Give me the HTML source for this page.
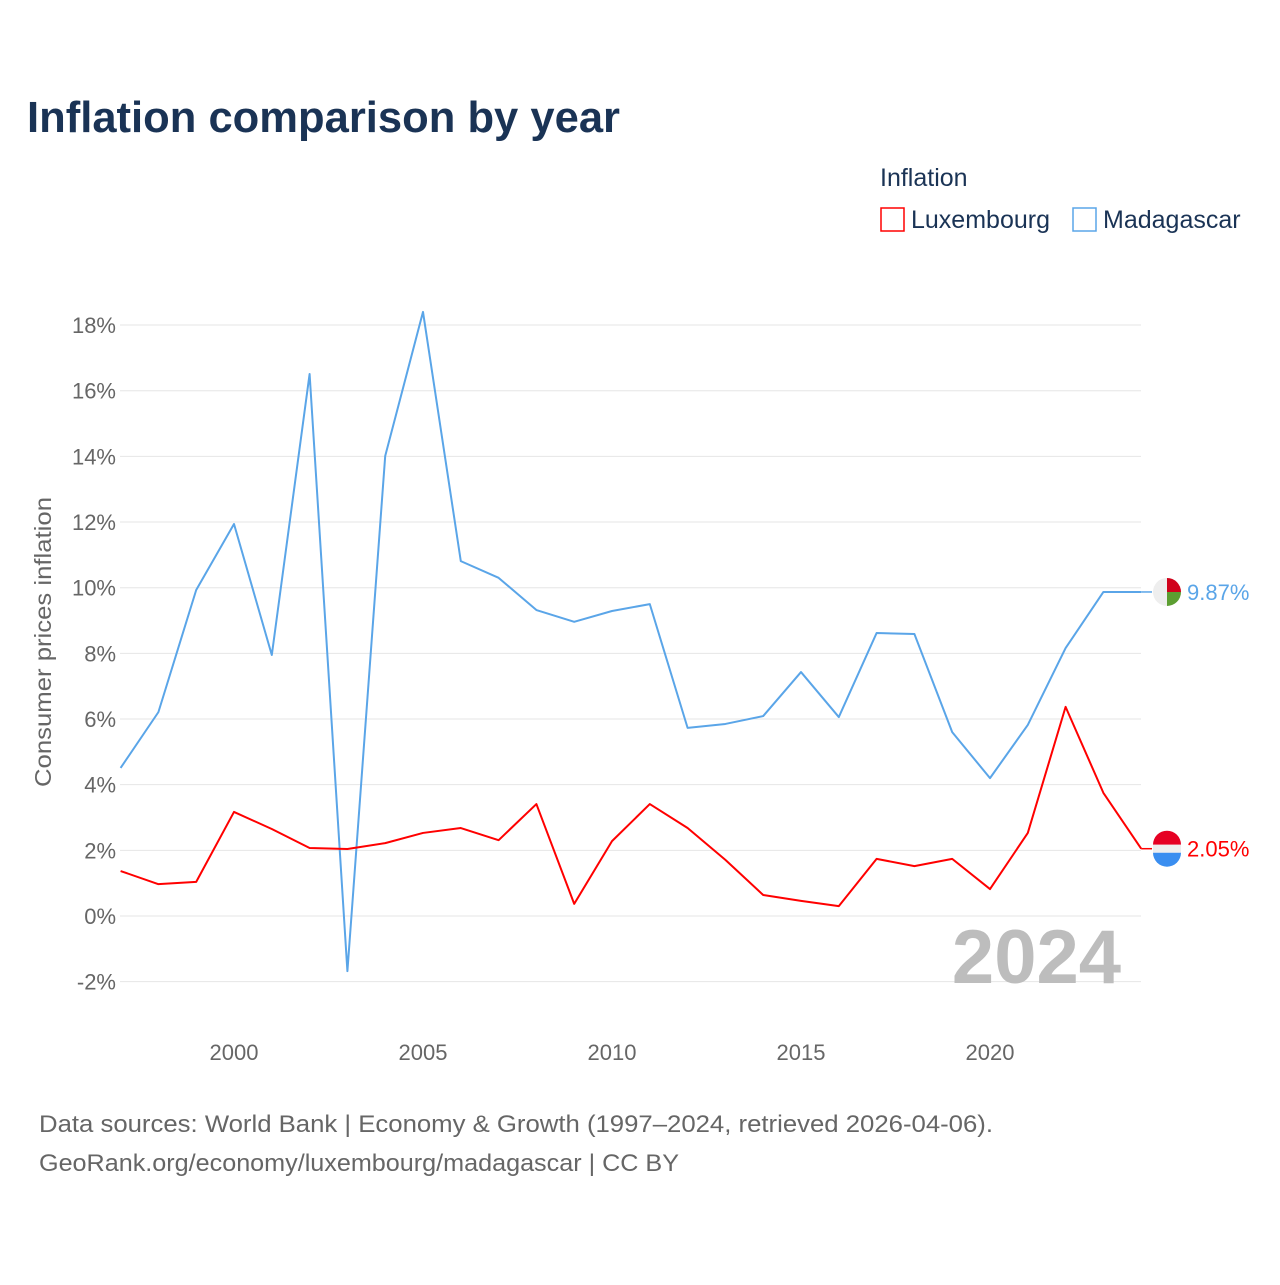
<!DOCTYPE html>
<html><head><meta charset="utf-8">
<style>
html,body{margin:0;padding:0;background:#fff;}
body{width:1280px;height:1280px;overflow:hidden;font-family:"Liberation Sans",sans-serif;}
</style></head>
<body>
<svg id="chart" width="1280" height="1280" viewBox="0 0 1280 1280" xmlns="http://www.w3.org/2000/svg">
<text x="27" y="132" font-size="44" font-weight="bold" fill="#1a3355" textLength="593" lengthAdjust="spacingAndGlyphs">Inflation comparison by year</text>
<text x="880" y="186" font-size="25" fill="#1a3355">Inflation</text>
<g>
<rect x="881" y="208" width="23" height="23" fill="none" stroke="#ff0000" stroke-width="1.5"/>
<text x="911" y="228" font-size="25" fill="#1a3355">Luxembourg</text></g>
<g>
<rect x="1073" y="208" width="23" height="23" fill="none" stroke="#5aa5e8" stroke-width="1.5"/>
<text x="1103" y="228" font-size="25" fill="#1a3355">Madagascar</text></g>
<g id="grid"></g>
<g id="series"></g>
<text transform="translate(51,642) rotate(-90)" text-anchor="middle" font-size="23" fill="#666" textLength="290" lengthAdjust="spacingAndGlyphs">Consumer prices inflation</text>
<text x="1121" y="983" text-anchor="end" font-size="76" font-weight="bold" fill="#bdbdbd">2024</text>
<text x="39" y="1132" font-size="24" fill="#666" textLength="954" lengthAdjust="spacingAndGlyphs">Data sources: World Bank | Economy &amp; Growth (1997–2024, retrieved 2026-04-06).</text>
<text x="39" y="1171" font-size="24" fill="#666" textLength="640" lengthAdjust="spacingAndGlyphs">GeoRank.org/economy/luxembourg/madagascar | CC BY</text>
</svg>
<script>
const years=[1997,1998,1999,2000,2001,2002,2003,2004,2005,2006,2007,2008,2009,2010,2011,2012,2013,2014,2015,2016,2017,2018,2019,2020,2021,2022,2023,2024];
const madagascar=[4.51,6.21,9.93,11.94,7.95,16.51,-1.68,14.01,18.40,10.81,10.30,9.32,8.96,9.29,9.50,5.73,5.85,6.09,7.43,6.06,8.62,8.59,5.60,4.20,5.82,8.16,9.87,9.87];
const luxembourg=[1.37,0.97,1.04,3.17,2.65,2.07,2.04,2.22,2.53,2.68,2.31,3.41,0.37,2.28,3.41,2.68,1.71,0.64,0.46,0.30,1.74,1.52,1.74,0.82,2.53,6.37,3.75,2.05];
const yTicks=[-2,0,2,4,6,8,10,12,14,16,18];
const xTicks=[2000,2005,2010,2015,2020];
const NS="http://www.w3.org/2000/svg";
const xS=y=>234+(y-2000)*37.8;
const yS=v=>916-v*32.83;
const grid=document.getElementById('grid'),ser=document.getElementById('series');
function mk(tag,attrs,parent){const e=document.createElementNS(NS,tag);for(const k in attrs)e.setAttribute(k,attrs[k]);parent.appendChild(e);return e;}
yTicks.forEach(t=>{
 const l=mk('line',{x1:120,x2:1141,y1:yS(t),y2:yS(t),stroke:'#e6e6e6','stroke-width':1},grid);
 
 
 const tx=mk('text',{x:116,y:yS(t)+8,'text-anchor':'end','font-size':22,fill:'#666'},grid);
 tx.textContent=t+'%';
 
 
});
xTicks.forEach(t=>{
 const tx=mk('text',{x:xS(t),y:1060,'text-anchor':'middle','font-size':22,fill:'#666'},grid);
 tx.textContent=t;
 
 
});
function line(vals,color,name){
 const p=mk('polyline',{points:vals.map((v,i)=>xS(years[i])+','+yS(v)).join(' '),fill:'none',stroke:color,'stroke-width':2,'stroke-linejoin':'round'},ser);
 
 
 const last=vals[vals.length-1],ly=yS(last);
 mk('line',{x1:xS(2024),x2:1152,y1:ly,y2:ly,stroke:color,'stroke-width':1.5},ser);
 const tx=mk('text',{x:1187,y:ly+8,'font-size':22,fill:color},ser);
 tx.textContent=last.toFixed(2)+'%';
 
 
 return ly;
}
const my=line(madagascar,'#5aa5e8','madagascar-line');
const ly=line(luxembourg,'#ff0000','luxembourg-line');
const fm=mk('g',{},ser);


mk('circle',{cx:1167,cy:my,r:14,fill:'#eee'},fm);
mk('path',{d:`M1167 ${my} L1167 ${my-14} A14 14 0 0 1 1181 ${my} Z`,fill:'#d0021b'},fm);
mk('path',{d:`M1167 ${my} L1181 ${my} A14 14 0 0 1 1167 ${my+14} Z`,fill:'#5c9e31'},fm);
const fl=mk('g',{},ser);


mk('path',{d:`M1153 ${ly-4} A14 14 0 0 1 1181 ${ly-4} Z`,fill:'#e60023'},fl);
mk('rect',{x:1153,y:ly-4,width:28,height:8,fill:'#eee'},fl);
mk('path',{d:`M1153 ${ly+4} A14 14 0 0 0 1181 ${ly+4} Z`,fill:'#3a8ef0'},fl);
</script>
</body></html>
